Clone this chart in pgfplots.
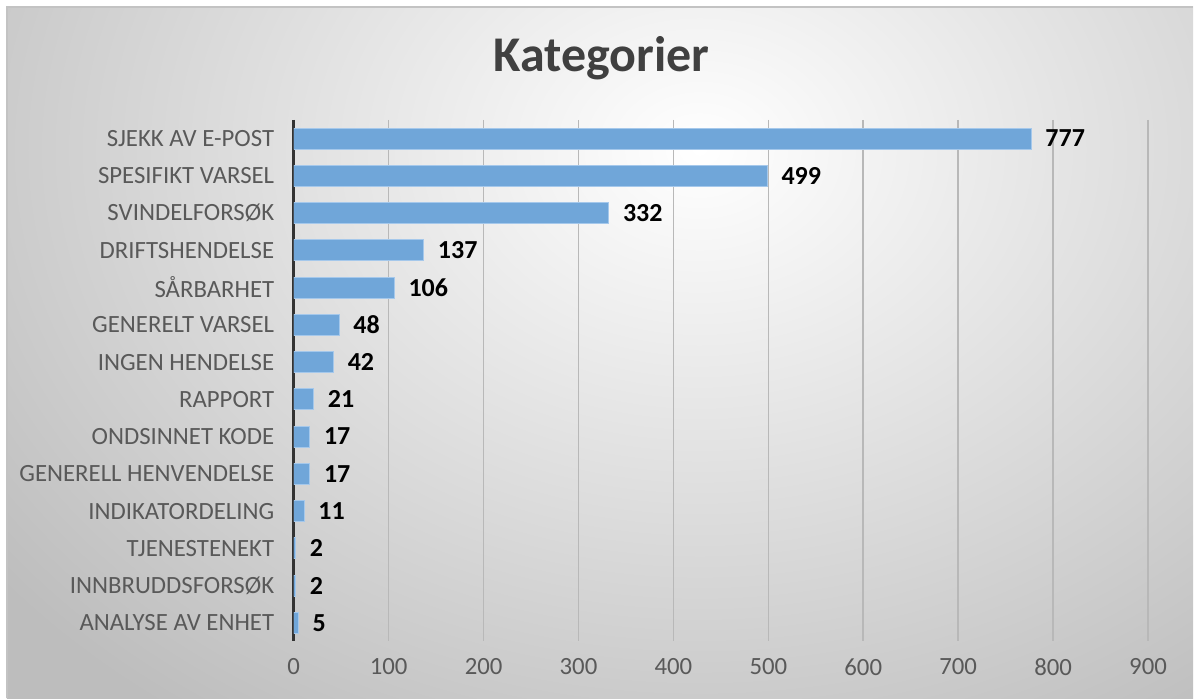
\documentclass[border=0pt]{standalone}
\usepackage{pgfplots}
\pgfplotsset{compat=1.18}
\usepackage{fontspec}
\setmainfont{Carlito}
\definecolor{barblue}{RGB}{112,166,217}
\definecolor{baredge}{RGB}{165,200,235}
\definecolor{labelgray}{RGB}{89,89,89}
\definecolor{framegray}{RGB}{195,195,195}
\begin{document}
\begin{tikzpicture}
% background, in pixel units of the reference (y downwards)
\begin{scope}[x=0.5pt,y=-0.5pt,yshift=349.5pt]
  \fill[white] (0,0) rectangle (1194,699);
  \begin{scope}
    \clip (7,7) rectangle (1194,699);
    \shade[inner color=white, outer color=black!26] (-200,-550) rectangle (1600,850);
  \end{scope}
  \draw[framegray, line width=1pt] (7,699) -- (7,7) -- (1194,7);
  \node[font=\bfseries\fontsize{25}{30}\selectfont, text=black!75] at (602,58) {Kategorier};
\end{scope}

\begin{axis}[
  at={(147pt,28.5pt)}, anchor=south west,
  scale only axis, width=427.5pt, height=261pt,
  xbar, bar width=10.5pt,
  xmin=0, xmax=900, ymin=-0.5, ymax=13.5, y dir=reverse,
  axis x line*=bottom, axis y line*=left,
  x axis line style={draw=none},
  y axis line style={draw=black!80, line width=1.6pt},
  xtick={0,100,...,900},
  ytick={0,...,13},
  yticklabels={SJEKK AV E-POST, SPESIFIKT VARSEL, SVINDELFORSØK, DRIFTSHENDELSE,
    SÅRBARHET, GENERELT VARSEL, INGEN HENDELSE, RAPPORT, ONDSINNET KODE,
    GENERELL HENVENDELSE, INDIKATORDELING, TJENESTENEKT\hspace{0.25em},
    INNBRUDDSFORSØK, ANALYSE AV ENHET},
  xmajorgrids, major grid style={black!28, line width=0.8pt},
  major tick style={draw=none},
  ticklabel style={font=\fontsize{12.4}{14}\selectfont, text=labelgray},
  xticklabel style={yshift=-5pt},
  yticklabel style={xshift=-2pt},
  /pgf/number format/assume math mode=true,
  point meta=x,
  nodes near coords,
  nodes near coords style={font=\bfseries\fontsize{13}{15}\selectfont, black, xshift=3.5pt},
]
\addplot[fill=barblue, draw=baredge, line width=0.5pt] coordinates {
  (777,0) (499,1) (332,2) (137,3) (106,4) (48,5) (42,6)
  (21,7) (17,8) (17,9) (11,10) (2,11) (2,12) (5,13)
};
\end{axis}
\end{tikzpicture}
\end{document}
